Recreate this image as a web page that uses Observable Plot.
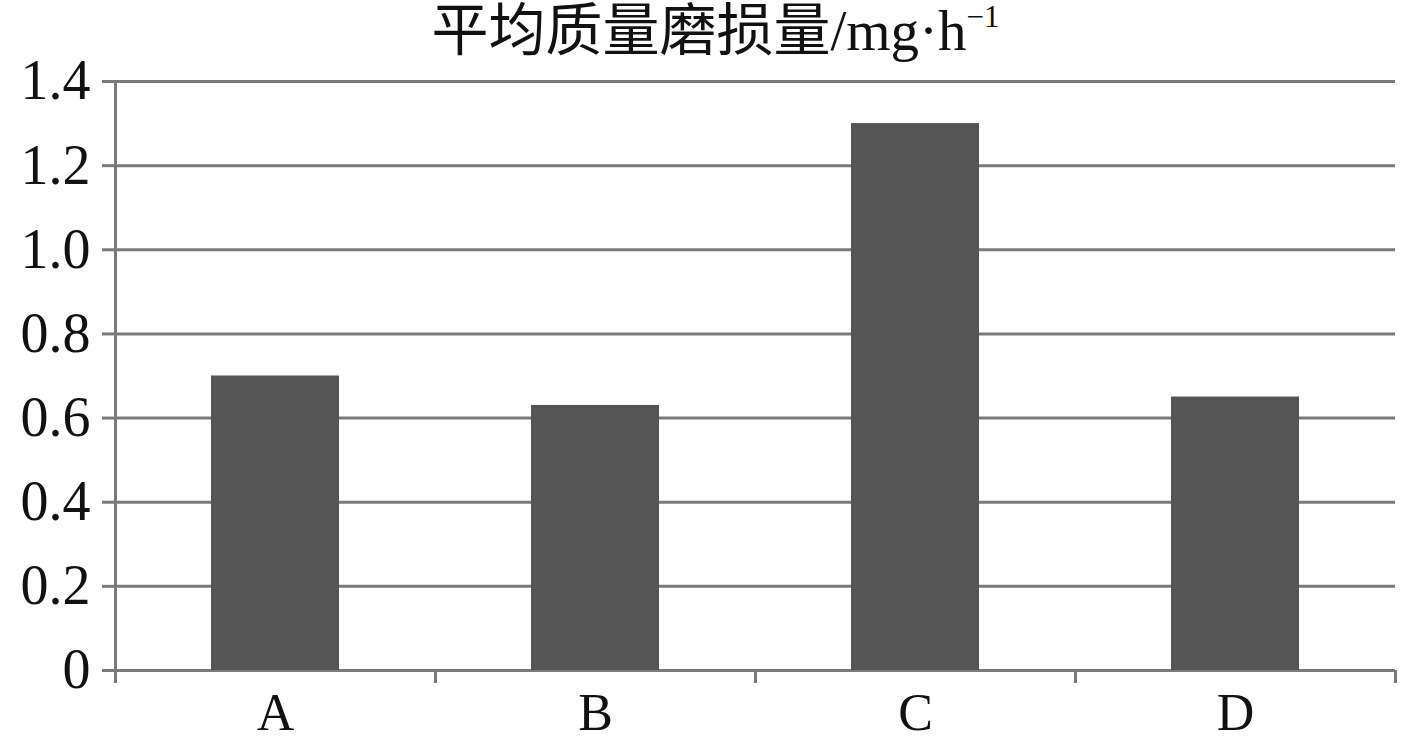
<!DOCTYPE html>
<html>
<head>
<meta charset="utf-8">
<script src="https://cdn.jsdelivr.net/npm/d3@7"></script>
<script src="https://cdn.jsdelivr.net/npm/@observablehq/plot@0.6"></script>
<style>
  html, body { margin: 0; padding: 0; background: #fff; }
  #wrap { position: relative; width: 1417px; height: 742px; }
  #title {
    position: absolute; left: 0; top: 0;
    height: 62px; width: 1417px; box-sizing: border-box;
    font-family: "Liberation Serif", "Noto Sans CJK SC", serif;
    font-size: 57px; line-height: 62px; color: #111;
    text-align: center; padding-left: 14px; white-space: nowrap; z-index: 2;
  }
  #title sup { font-size: 31px; vertical-align: 23px; line-height: 0; }
</style>
</head>
<body>
<div id="wrap">
<div id="title">平均质量磨损量/mg·h<sup>−1</sup></div>
<div id="chart"></div>
</div>
<script>
const categories = ["A", "B", "C", "D"];
const values = [0.70, 0.63, 1.30, 0.65];
const yTicks = [0, 0.2, 0.4, 0.6, 0.8, 1.0, 1.2, 1.4];

const data = categories.map((c, i) => ({cat: c, idx: i, value: values[i]}));
const boundaries = d3.range(categories.length + 1);
const centers = categories.map((c, i) => i + 0.5);

const gridColor = "#7a7a7a";
const barColor = "#555555";
const font = "Liberation Serif, Times New Roman, serif";

const plot = Plot.plot({
  width: 1417,
  height: 742,
  marginTop: 81,
  marginBottom: 72,
  marginLeft: 115,
  marginRight: 22,
  style: {fontFamily: font, fontSize: "56px", color: "#111", background: "transparent"},
  x: {domain: [0, categories.length], axis: null},
  y: {domain: [0, 1.4], axis: null},
  marks: [
    Plot.gridY(yTicks, {stroke: gridColor, strokeOpacity: 1, strokeWidth: 3}),
    Plot.rectY(data, {x1: "idx", x2: d => d.idx + 1, y: "value", fill: barColor, insetLeft: 96, insetRight: 96}),
    Plot.ruleX([0], {y1: 0, y2: 1.4, stroke: gridColor, strokeWidth: 3}),
    Plot.axisY(yTicks, {
      tickSize: 13, tickPadding: 12, stroke: gridColor, strokeWidth: 3,
      tickFormat: d => d === 0 ? "0" : d.toFixed(1),
      fontSize: 56, fill: "#111", label: null
    }),
    Plot.axisX(boundaries, {tickSize: 13, stroke: gridColor, strokeWidth: 3, tickFormat: () => "", label: null}),
    Plot.axisX(centers, {tickSize: 0, tickPadding: 23, tickFormat: d => categories[Math.floor(d)], fontSize: 52, fill: "#111", label: null})
  ]
});
document.getElementById("chart").appendChild(plot);
</script>
</body>
</html>
